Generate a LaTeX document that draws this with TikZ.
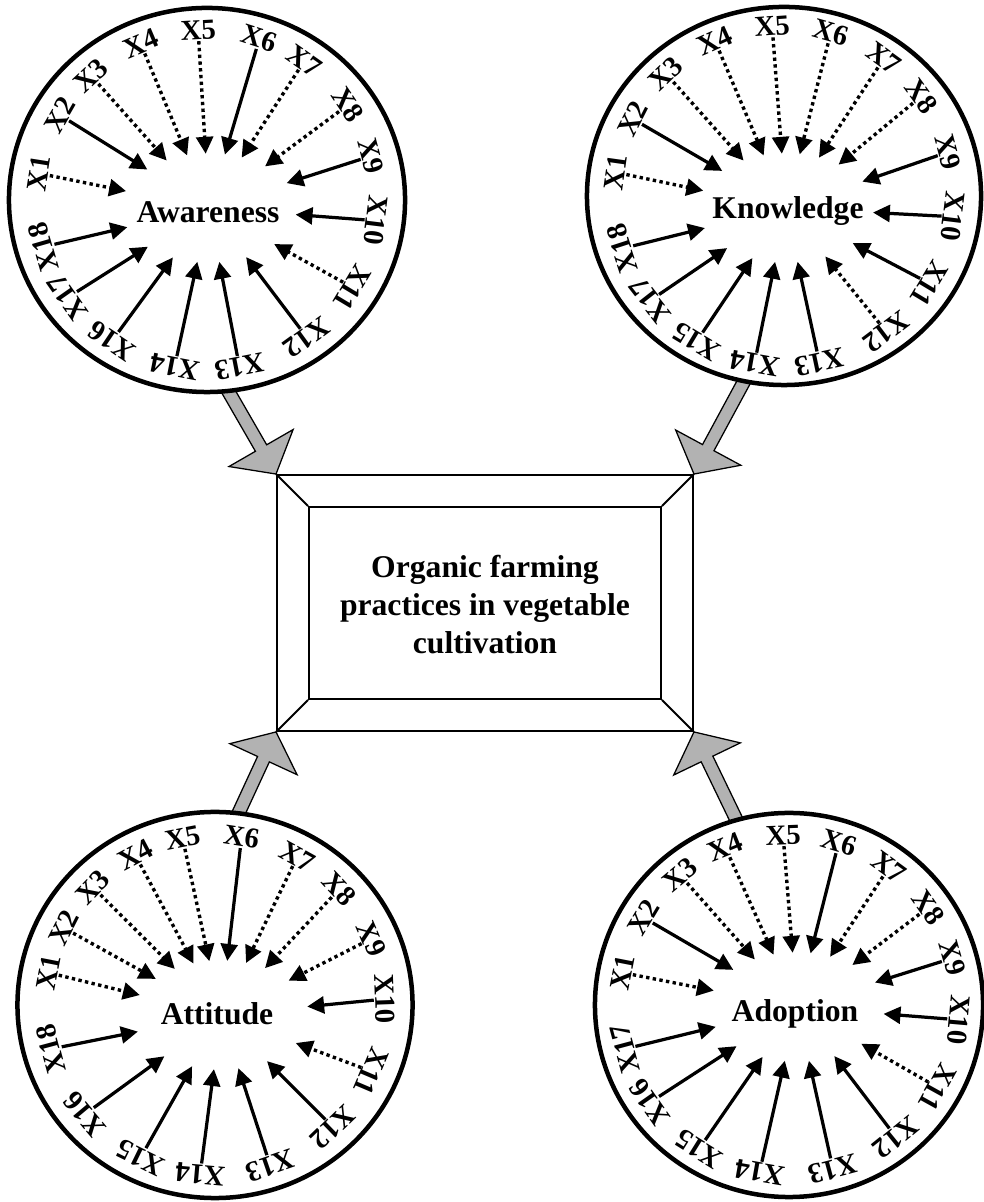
\documentclass[tikz,border=0pt]{standalone}
\usepackage{fontspec}
\setmainfont{Liberation Serif}
\usetikzlibrary{shapes.geometric,arrows.meta,calc,backgrounds}
\definecolor{arrowgray}{RGB}{178,178,178}
\tikzset{
  ring/.style={draw, line width=3.2pt, ellipse, fill=white, inner sep=0pt},
  hub/.style={ellipse, inner sep=0pt, minimum width=4.35cm, minimum height=2.7cm},
  word/.style={font=\fontsize{22.5}{27}\selectfont\bfseries, inner sep=0pt},
  lbl/.style={font=\fontsize{20.5}{23}\selectfont\bfseries, inner sep=0.8pt},
  solidlink/.style={line width=2.3pt, -{Triangle[length=12pt,width=12pt]}},
  dottedlink/.style={solidlink, line width=2.4pt, dash pattern=on 2.4pt off 2.4pt},
  corebox/.style={draw, line width=1.3pt, inner sep=0pt},
  bigarrow/.style={fill=arrowgray, draw=black, line width=0.9pt, line join=miter},
}
% wide grey block arrow from #1 to the tip #2
\newcommand\fatarrow[2]{%
  \path[bigarrow] ($(#1)!1.625mm!90:(#2)$)
    -- ($(#2)!7.5mm!(#1)!1.625mm!90:(#2)$)
    -- ($(#2)!7.5mm!(#1)!9.25mm!90:(#2)$)
    -- (#2)
    -- ($(#2)!7.5mm!(#1)!9.25mm!-90:(#2)$)
    -- ($(#2)!7.5mm!(#1)!1.625mm!-90:(#2)$)
    -- ($(#1)!1.625mm!-90:(#2)$) -- cycle;}
\begin{document}
\begin{tikzpicture}[x=0.025cm, y=0.025cm]
\useasboundingbox (0,0) rectangle (984,1202);

% ---- four rings with their central factor
\node[ring, minimum width=9.9cm, minimum height=9.6cm] (awC) at (207,1002) {};
\node[ring, minimum width=9.85cm, minimum height=9.45cm] (knC) at (784,1006) {};
\node[ring, minimum width=9.875cm, minimum height=9.65cm] (atC) at (215,197) {};
\node[ring, minimum width=9.7cm, minimum height=9.6cm] (adC) at (789,197) {};

\node[hub] (aw) at (209,994) {};
\node[word] (awT) at (208,990) {Awareness};
\node[hub] (kn) at (786,994) {};
\node[word] (knT) at (788,991) {Knowledge};
\node[hub] (at) at (221,187) {};
\node[word] (atT) at (217,188) {Attitude};
\node[hub] (ad) at (797,195) {};
\node[word] (adT) at (795,188) {Adoption};

% ---- item labels and their links
\foreach \a/\t/\s in {171/X1/dottedlink, 150/X2/solidlink, 133/X3/dottedlink,
  113/X4/dottedlink, 93/X5/dottedlink, 72/X6/solidlink, 55/X7/dottedlink,
  34/X8/dottedlink, 15/X9/solidlink, -7/X10/solidlink, -31/X11/dottedlink,
  -54/X12/solidlink, -79/X13/solidlink, -101/X14/solidlink, -124/X16/solidlink,
  -145/X17/solidlink, -164/X18/solidlink} {
  \node[lbl, rotate=\a-90] (aw\t) at ($(awC)+(\a:170)$) {\t};
  \draw[\s] (aw\t) -- (aw);
}
\foreach \a/\t/\s in {172/X1/dottedlink, 153/X2/solidlink, 134/X3/dottedlink,
  114/X4/dottedlink, 94/X5/dottedlink, 74/X6/dottedlink, 54/X7/dottedlink,
  36/X8/dottedlink, 15/X9/solidlink, -7/X10/solidlink, -31/X11/solidlink,
  -53/X12/dottedlink, -78/X13/solidlink, -100/X14/solidlink, -121/X15/solidlink,
  -142/X17/solidlink, -162/X18/solidlink} {
  \node[lbl, rotate=\a-90] (kn\t) at ($(knC)+(\a:170)$) {\t};
  \draw[\s] (kn\t) -- (kn);
}
\foreach \a/\t/\s in {169/X1/dottedlink, 153/X2/dottedlink, 136/X3/dottedlink,
  118/X4/dottedlink, 101/X5/dottedlink, 81/X6/solidlink, 61/X7/dottedlink,
  43/X8/dottedlink, 23/X9/dottedlink, 2/X10/solidlink, -23/X11/dottedlink,
  -46/X12/solidlink, -71/X13/solidlink, -95/X14/solidlink, -116/X15/solidlink,
  -140/X16/solidlink, -165/X18/solidlink} {
  \node[lbl, rotate=\a-90] (at\t) at ($(atC)+(\a:170)$) {\t};
  \draw[\s] (at\t) -- (at);
}
\foreach \a/\t/\s in {169/X1/dottedlink, 149/X2/solidlink, 130/X3/dottedlink,
  112/X4/dottedlink, 92/X5/dottedlink, 73/X6/solidlink, 54/X7/dottedlink,
  35/X8/dottedlink, 16/X9/solidlink, -5/X10/solidlink, -29/X11/dottedlink,
  -51/X12/solidlink, -75/X13/solidlink, -100/X14/solidlink, -122/X15/solidlink,
  -145/X16/solidlink, -165/X17/solidlink} {
  \node[lbl, rotate=\a-90] (ad\t) at ($(adC)+(\a:170)$) {\t};
  \draw[\s] (ad\t) -- (ad);
}

% ---- bevelled central box
\node[corebox, minimum width=10.4cm, minimum height=6.4cm] (core) at (485,599) {};
\node[corebox, minimum width=8.8cm, minimum height=4.8cm] (coreIn) at (core) {};
\draw[line width=1.3pt] (core.north west) -- (coreIn.north west)
  (core.north east) -- (coreIn.north east)
  (core.south west) -- (coreIn.south west)
  (core.south east) -- (coreIn.south east);
\node[word, align=center] (coreT) at (485,597)
  {Organic farming\\practices in vegetable\\cultivation};

% ---- grey block arrows from the rings to the box
\coordinate (awS) at (212,839);
\coordinate (knS) at (754,839);
\coordinate (atS) at (222,353);
\coordinate (adS) at (750,354);
\begin{scope}[on background layer]
  \fill[white] (0,0) rectangle (984,1202);
  \fatarrow{awS}{core.north west}
  \fatarrow{knS}{core.north east}
  \fatarrow{atS}{core.south west}
  \fatarrow{adS}{core.south east}
\end{scope}
\end{tikzpicture}
\end{document}
